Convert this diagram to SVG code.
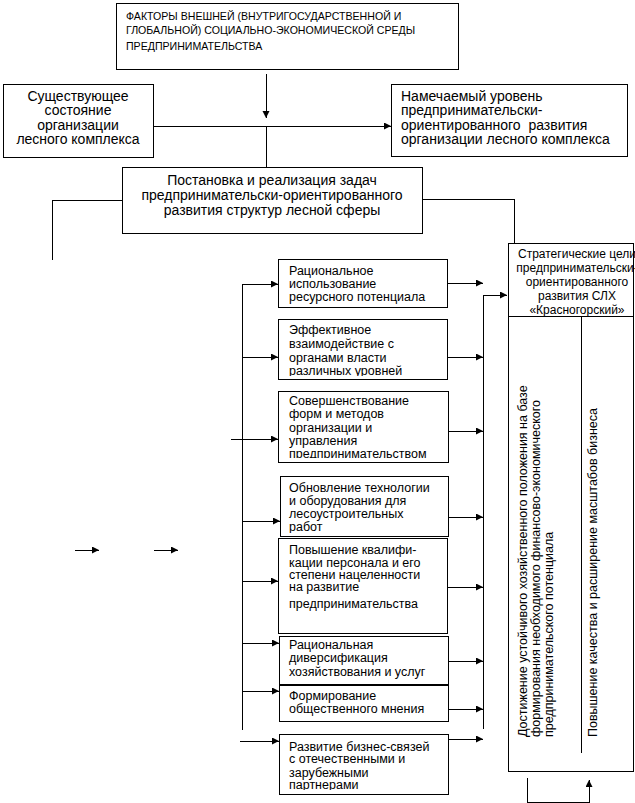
<svg xmlns="http://www.w3.org/2000/svg" width="635" height="803" viewBox="0 0 635 803">
<style>
.box{fill:#fff;stroke:#000;stroke-width:1;shape-rendering:crispEdges}
.ln{fill:none;stroke:#000;stroke-width:1;shape-rendering:crispEdges}
.ar{marker-end:url(#ah)}
text{font-family:"Liberation Sans",Arial,sans-serif;fill:#000}
.caps{font-size:10.6px}
.big{font-size:14px}
.sm{font-size:12.5px}
.tt{font-size:12px}
.rot{font-size:12.5px}
.c{text-anchor:middle}
</style>
<defs>
<marker id="ah" markerUnits="userSpaceOnUse" markerWidth="8" markerHeight="8" refX="7" refY="3.5" orient="auto">
<path d="M0,0 L7,3.5 L0,7 z" fill="#000"/>
</marker>
<clipPath id="c1"><rect x="278" y="259" width="169" height="45"/></clipPath>
<clipPath id="c2"><rect x="278" y="319" width="169" height="57"/></clipPath>
<clipPath id="c3"><rect x="278" y="391" width="170" height="67"/></clipPath>
<clipPath id="c4"><rect x="280" y="476" width="168" height="57"/></clipPath>
<clipPath id="c6"><rect x="279" y="636" width="169" height="43"/></clipPath>
<clipPath id="c8"><rect x="279" y="734" width="169" height="56"/></clipPath>
<clipPath id="cs"><rect x="508" y="243" width="127" height="528"/></clipPath>
</defs>

<g id="connectors">
<path class="ln ar" d="M266,74 V118"/>
<path class="ln ar" d="M153,126 H391"/>
<path class="ln" d="M266,126 V167"/>
<path class="ln" d="M122,200 H52 V260"/>
<path class="ln" d="M422,199 H514 V243"/>
<path class="ln" d="M242,284 V730"/>
<path class="ln ar" d="M242,284 H278"/>
<path class="ln ar" d="M242,357 H278"/>
<path class="ln ar" d="M231,439 H278"/>
<path class="ln ar" d="M242,521 H280"/>
<path class="ln ar" d="M242,581 H278"/>
<path class="ln ar" d="M242,643 H279"/>
<path class="ln ar" d="M242,691 H279"/>
<path class="ln ar" d="M240,741 H279"/>
<path class="ln" d="M483,295 V729"/>
<path class="ln ar" d="M447,283 H483"/>
<path class="ln ar" d="M483,295 H507"/>
<path class="ln ar" d="M447,357 H483"/>
<path class="ln ar" d="M448,431 H483"/>
<path class="ln ar" d="M448,517 H483"/>
<path class="ln ar" d="M447,587 H483"/>
<path class="ln ar" d="M448,661 H483"/>
<path class="ln ar" d="M448,709 H483"/>
<path class="ln ar" d="M448,739 H483"/>
<path class="ln ar" d="M75,550 H99"/>
<path class="ln ar" d="M154,550 H178"/>
<path class="ln ar" d="M527,778 V802 H589 V780"/>
</g>

<g id="factors">
<rect class="box" x="116" y="3" width="342" height="66"/>
<text class="caps" x="126" y="20">ФАКТОРЫ ВНЕШНЕЙ (ВНУТРИГОСУДАРСТВЕННОЙ И</text>
<text class="caps" x="126" y="34">ГЛОБАЛЬНОЙ) СОЦИАЛЬНО-ЭКОНОМИЧЕСКОЙ СРЕДЫ</text>
<text class="caps" x="126" y="50">ПРЕДПРИНИМАТЕЛЬСТВА</text>
</g>

<g id="current">
<rect class="box" x="3" y="84" width="150" height="73"/>
<text class="big c" x="78" y="101">Существующее</text>
<text class="big c" x="78" y="115">состояние</text>
<text class="big c" x="78" y="130">организации</text>
<text class="big c" x="78" y="144">лесного комплекса</text>
</g>

<g id="target">
<rect class="box" x="391" y="84" width="236" height="72"/>
<text class="big" x="401" y="101">Намечаемый уровень</text>
<text class="big" x="401" y="115">предпринимательски-</text>
<text class="big" x="401" y="130" xml:space="preserve">ориентированного  развития</text>
<text class="big" x="401" y="144">организации лесного комплекса</text>
</g>

<g id="tasks">
<rect class="box" x="122" y="167" width="300" height="66"/>
<text class="big c" x="272" y="185">Постановка и реализация задач</text>
<text class="big c" x="272" y="200">предпринимательски-ориентированного</text>
<text class="big c" x="272" y="215">развития структур лесной сферы</text>
</g>

<g id="n1">
<rect class="box" x="278" y="259" width="169" height="48"/>
<g clip-path="url(#c1)">
<text class="sm" x="289" y="275">Рациональное</text>
<text class="sm" x="289" y="288">использование</text>
<text class="sm" x="289" y="301">ресурсного потенциала</text>
</g>
</g>

<g id="n2">
<rect class="box" x="278" y="319" width="169" height="60"/>
<g clip-path="url(#c2)">
<text class="sm" x="289" y="334">Эффективное</text>
<text class="sm" x="289" y="348">взаимодействие с</text>
<text class="sm" x="289" y="362">органами власти</text>
<text class="sm" x="289" y="375">различных уровней</text>
</g>
</g>

<g id="n3">
<rect class="box" x="278" y="391" width="170" height="71"/>
<g clip-path="url(#c3)">
<text class="sm" x="289" y="405">Совершенствование</text>
<text class="sm" x="289" y="418">форм и методов</text>
<text class="sm" x="289" y="432">организации и</text>
<text class="sm" x="289" y="445">управления</text>
<text class="sm" x="289" y="458">предпринимательством</text>
</g>
</g>

<g id="n4">
<rect class="box" x="280" y="476" width="168" height="60"/>
<g clip-path="url(#c4)">
<text class="sm" x="289" y="492">Обновление технологии</text>
<text class="sm" x="289" y="505">и оборудования для</text>
<text class="sm" x="289" y="518">лесоустроительных</text>
<text class="sm" x="289" y="531">работ</text>
</g>
</g>

<g id="n5">
<rect class="box" x="278" y="538" width="169" height="95"/>
<text class="sm" x="289" y="554">Повышение квалифи-</text>
<text class="sm" x="289" y="567">кации персонала и его</text>
<text class="sm" x="289" y="579">степени нацеленности</text>
<text class="sm" x="289" y="591">на развитие</text>
<text class="sm" x="289" y="608">предпринимательства</text>
</g>

<g id="n6">
<rect class="box" x="279" y="636" width="169" height="48"/>
<g clip-path="url(#c6)">
<text class="sm" x="289" y="649">Рациональная</text>
<text class="sm" x="289" y="662">диверсификация</text>
<text class="sm" x="289" y="676">хозяйствования и услуг</text>
</g>
</g>

<g id="n7">
<rect class="box" x="279" y="685" width="169" height="36"/>
<text class="sm" x="289" y="700">Формирование</text>
<text class="sm" x="289" y="713">общественного мнения</text>
</g>

<g id="n8">
<rect class="box" x="279" y="734" width="169" height="60"/>
<g clip-path="url(#c8)">
<text class="sm" x="289" y="751">Развитие бизнес-связей</text>
<text class="sm" x="289" y="763">с отечественными и</text>
<text class="sm" x="289" y="777">зарубежными</text>
<text class="sm" x="289" y="789">партнерами</text>
</g>
</g>

<g id="strategic">
<rect class="box" x="508" y="243" width="125" height="528"/>
<path class="ln" d="M508,316 H633"/>
<path class="ln" d="M581,316 V753"/>
<g clip-path="url(#cs)">
<text class="tt c" x="577" y="258">Стратегические цели</text>
<text class="tt c" x="577" y="272">предпринимательски-</text>
<text class="tt c" x="577" y="286">ориентированного</text>
<text class="tt c" x="577" y="300">развития СЛХ</text>
<text class="tt c" x="577" y="314">«Красногорский»</text>
</g>
<text class="rot" transform="translate(527,737) rotate(-90)">Достижение устойчивого хозяйственного положения на базе</text>
<text class="rot" transform="translate(540,737) rotate(-90)">формирования необходимого финансово-экономического</text>
<text class="rot" transform="translate(553,737) rotate(-90)">предпринимательского потенциала</text>
<text class="rot" transform="translate(597,737) rotate(-90)">Повышение качества и расширение масштабов бизнеса</text>
</g>
</svg>
